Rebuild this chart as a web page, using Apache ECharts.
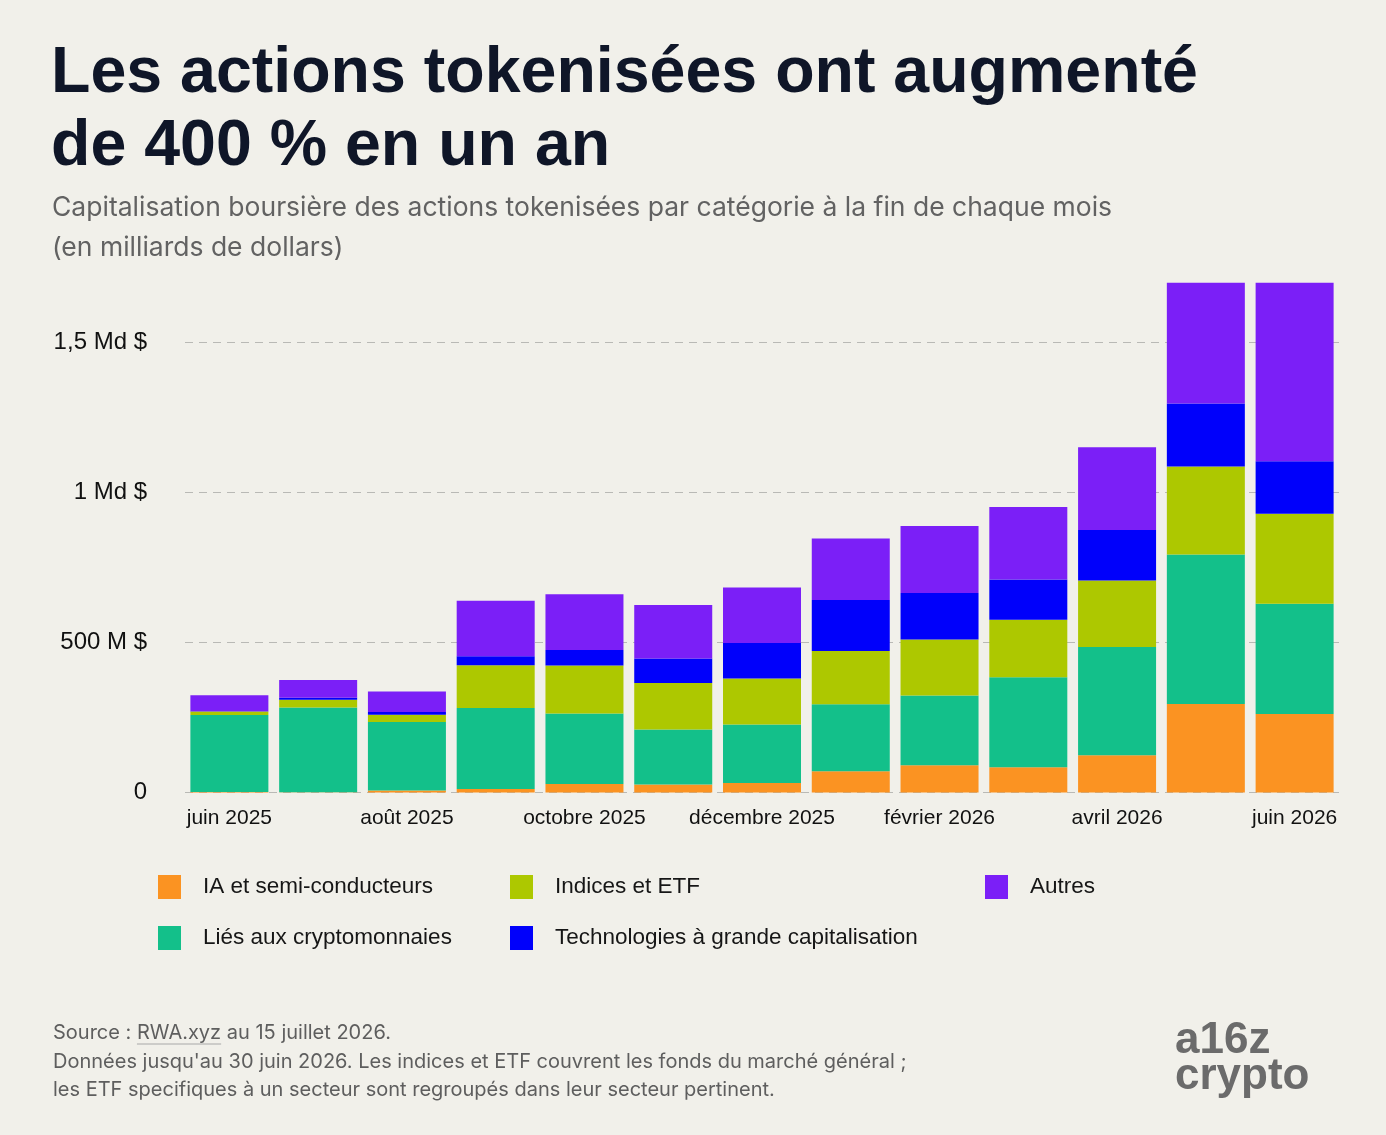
<!DOCTYPE html>
<html>
<head>
<meta charset="utf-8">
<script src="https://cdn.jsdelivr.net/npm/echarts@6/dist/echarts.min.js"></script>
<style>
    html, body { margin: 0; padding: 0; background: #f1f0ea; }
    #chart { width: 1386px; height: 1135px; }
</style>
</head>
<body>
<div id="chart"></div>
<script>
    // fin de mois, en millions de dollars
    var months = ['juin 2025', 'juillet 2025', 'août 2025', 'septembre 2025', 'octobre 2025', 'novembre 2025',
        'décembre 2025', 'janvier 2026', 'février 2026', 'mars 2026', 'avril 2026', 'mai 2026', 'juin 2026'];
    var iaSemi = [2, 1, 7, 12, 28, 27, 32, 71, 91, 84, 124, 295, 262];
    var cryptoLies = [256, 282, 228, 270, 235, 183, 195, 223, 232, 300, 361, 498, 367];
    var indices = [12, 26, 24, 142, 160, 155, 153, 178, 187, 192, 222, 294, 300];
    var techno = [1, 7, 9, 30, 52, 82, 118, 170, 155, 134, 168, 210, 175];
    var autres = [53, 59, 69, 185, 186, 178, 185, 205, 223, 242, 276, 402, 595];
    var yTicks = {0: '0', 500: '500 M $', 1000: '1 Md $', 1500: '1,5 Md $'};

    var chart = echarts.init(document.getElementById('chart'));

    var font = 'Liberation Sans, Arial, sans-serif';
    var noteFont = '20px Inter, sans-serif';

    // largeur de "Source : " pour placer le soulignement de RWA.xyz
    var ctx = document.createElement('canvas').getContext('2d');
    ctx.font = noteFont;
    var srcW = ctx.measureText('Source : ').width;
    var rwaW = ctx.measureText('RWA.xyz').width;

    function serie(name, data, color) {
        return {
            name: name,
            type: 'bar',
            stack: 'total',
            barWidth: 78,
            itemStyle: {color: color},
            emphasis: {disabled: true},
            data: data
        };
    }

    function legend(left, names) {
        return {
            orient: 'vertical',
            left: left,
            top: 870,
            itemWidth: 23,
            itemHeight: 24,
            itemGap: 27,
            icon: 'rect',
            data: names,
            selectedMode: false,
            textStyle: {
                fontFamily: font,
                fontSize: 22.5,
                color: '#161616',
                padding: [0, 0, 0, 17]
            }
        };
    }

    chart.setOption({
        backgroundColor: '#f1f0ea',
        animation: false,
        title: [{
            text: 'Les actions tokenisées ont augmenté\nde 400 % en un an',
            left: 46,
            top: 33,
            textStyle: {
                fontFamily: font,
                fontSize: 64.5,
                fontWeight: 'bold',
                lineHeight: 73,
                color: '#0f1628'
            }
        }, {
            text: 'Capitalisation boursière des actions tokenisées par catégorie à la fin de chaque mois\n(en milliards de dollars)',
            left: 47,
            top: 183,
            textStyle: {
                fontFamily: 'Inter, sans-serif',
                fontSize: 26.5,
                fontWeight: 'normal',
                lineHeight: 40,
                color: '#626262'
            }
        }],
        legend: [
            legend(153, ['IA et semi-conducteurs', 'Liés aux cryptomonnaies']),
            legend(505, ['Indices et ETF', 'Technologies à grande capitalisation']),
            legend(980, ['Autres'])
        ],
        grid: {
            left: 185,
            right: 47,
            top: 267.5,
            bottom: 342.5
        },
        xAxis: {
            type: 'category',
            data: months,
            axisLine: {show: false},
            axisTick: {show: false},
            axisLabel: {
                interval: 1,
                margin: 15,
                fontFamily: font,
                fontSize: 21,
                color: '#111'
            }
        },
        yAxis: {
            type: 'value',
            min: 0,
            max: 1750,
            interval: 500,
            axisLine: {show: false},
            axisTick: {show: false},
            axisLabel: {
                showMaxLabel: false,
                margin: 38,
                verticalAlign: 'middle',
                padding: [10, 0, 0, 0],
                fontFamily: font,
                fontSize: 24,
                color: '#111',
                formatter: function (v) {
                    return yTicks[v] || '';
                }
            },
            splitLine: {
                showMaxLine: false,
                lineStyle: {color: '#b9b9b5', type: [8, 6], width: 1.2}
            }
        },
        series: [
            serie('IA et semi-conducteurs', iaSemi, '#fb9322'),
            serie('Liés aux cryptomonnaies', cryptoLies, '#13c08a'),
            serie('Indices et ETF', indices, '#adc800'),
            serie('Technologies à grande capitalisation', techno, '#0000fb'),
            serie('Autres', autres, '#7b1ff7')
        ],
        graphic: [
            {
                type: 'text',
                left: 53,
                top: 1019,
                style: {
                    text: 'Source : RWA.xyz au 15 juillet 2026.\nDonnées jusqu\'au 30 juin 2026. Les indices et ETF couvrent les fonds du marché général ;\nles ETF specifiques à un secteur sont regroupés dans leur secteur pertinent.',
                    font: noteFont,
                    fill: '#5e5e5e',
                    lineHeight: 28.5
                }
            },
            {
                type: 'line',
                shape: {x1: 53 + srcW, y1: 1044, x2: 53 + srcW + rwaW, y2: 1044},
                style: {stroke: '#a8a8a8', lineWidth: 1}
            },
            {
                type: 'text',
                left: 1175,
                top: 1019,
                style: {
                    text: 'a16z\ncrypto',
                    font: 'bold 44px ' + font,
                    fill: '#6b6b6b',
                    lineHeight: 36
                }
            }
        ]
    });
</script>
</body>
</html>
